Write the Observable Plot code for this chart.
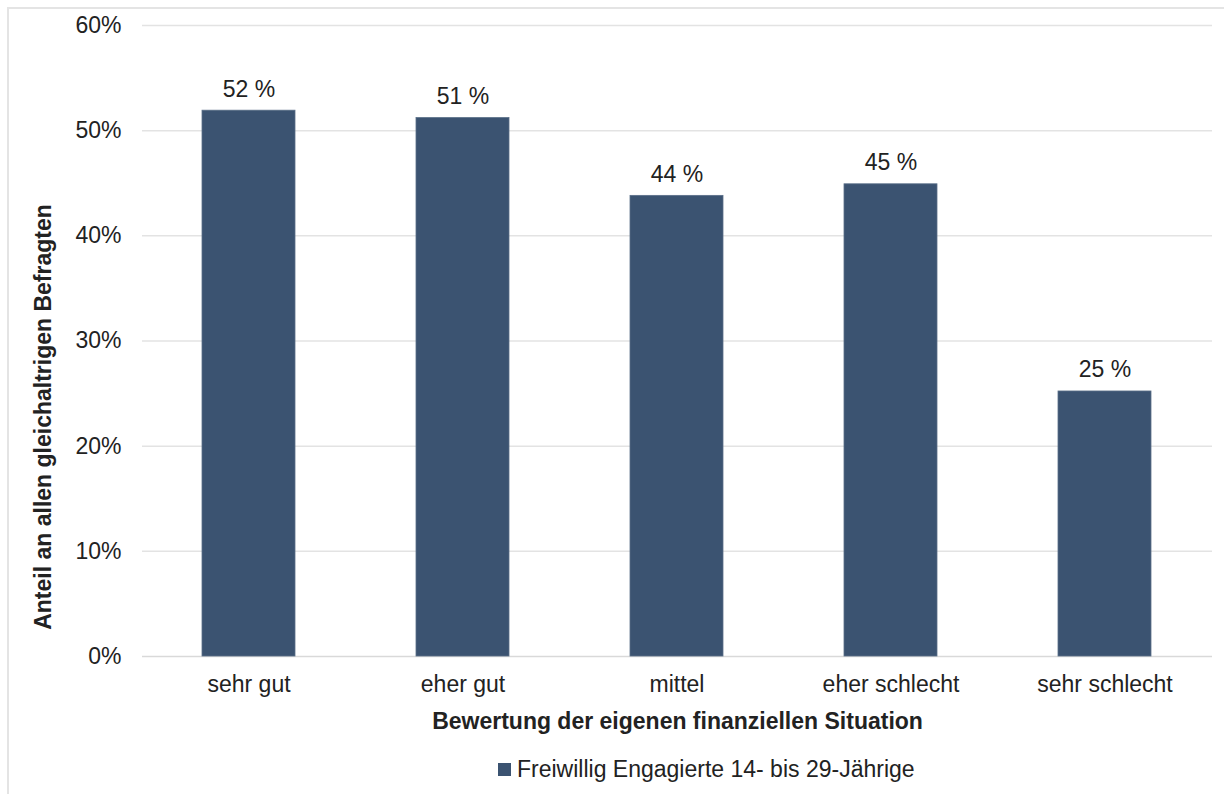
<!DOCTYPE html>
<html>
<head>
<meta charset="utf-8">
<script src="https://cdn.jsdelivr.net/npm/d3@7"></script>
<script src="https://cdn.jsdelivr.net/npm/@observablehq/plot@0.6"></script>
<style>
  html, body { margin: 0; padding: 0; background: #fff; }
  body { width: 1224px; height: 794px; position: relative; overflow: hidden;
         font-family: "Liberation Sans", Arial, sans-serif; color: #222; }
  #frame { position: absolute; left: 7px; top: 7px; width: 1240px; height: 820px;
           border: 2px solid #e4e4e4; box-sizing: border-box; }
  #chart { position: absolute; left: 0; top: 0; }
  #legend { position: absolute; left: 498px; top: 755px; height: 28px;
            display: flex; align-items: center; font-size: 23px; color: #222; white-space: nowrap; }
  #legend .sw { width: 13px; height: 13px; background: #3b5371; margin-right: 6px; }
</style>
</head>
<body>
<div id="frame"></div>
<div id="chart"></div>
<div id="legend"><span class="sw"></span><span>Freiwillig Engagierte 14- bis 29-Jährige</span></div>
<script>
const categories = ["sehr gut", "eher gut", "mittel", "eher schlecht", "sehr schlecht"];
const values = [51.9, 51.2, 43.8, 44.9, 25.2];
const labels = ["52 %", "51 %", "44 %", "45 %", "25 %"];
const yTicks = [0, 10, 20, 30, 40, 50, 60];
const xTitle = "Bewertung der eigenen finanziellen Situation";
const yTitle = "Anteil an allen gleichaltrigen Befragten";

const data = categories.map((c, i) => ({category: c, value: values[i], label: labels[i]}));

const FS = 23;
const chart = Plot.plot({
  width: 1224,
  height: 745,
  marginTop: 25,
  marginBottom: 89,
  marginLeft: 142,
  marginRight: 12,
  style: {fontFamily: '"Liberation Sans", Arial, sans-serif', fontSize: FS + "px", color: "#222", background: "transparent"},
  x: {domain: categories, paddingInner: 0.565, paddingOuter: 0.2825, label: null},
  y: {domain: [0, 60], label: null},
  marks: [
    Plot.gridY(yTicks.filter(d => d > 0), {stroke: "#e3e3e3", strokeOpacity: 1, strokeWidth: 1.5}),
    Plot.ruleY([0], {stroke: "#d9d9d9", strokeWidth: 1.5}),
    Plot.barY(data, {x: "category", y: "value", fill: "#3b5371", stroke: "#5a6f88", strokeWidth: 0.8}),
    Plot.text(data, {x: "category", y: "value", text: "label", lineAnchor: "bottom", dy: -14, fontSize: FS, fill: "#222"}),
    Plot.axisY({ticks: yTicks, tickSize: 0, tickPadding: 21, tickFormat: d => d + "%", fontSize: FS, label: null}),
    Plot.axisX({tickSize: 0, tickPadding: 19, fontSize: FS, label: null}),
    Plot.text([xTitle], {frameAnchor: "bottom", lineAnchor: "middle", textAnchor: "middle", dy: 65, fontWeight: "bold", fontSize: FS, fill: "#222"}),
    Plot.text([yTitle], {frameAnchor: "left", textAnchor: "middle", lineAnchor: "middle", rotate: -90, dx: -99, dy: 76, fontWeight: "bold", fontSize: FS, fill: "#222"})
  ]
});
document.getElementById("chart").appendChild(chart);
</script>
</body>
</html>
